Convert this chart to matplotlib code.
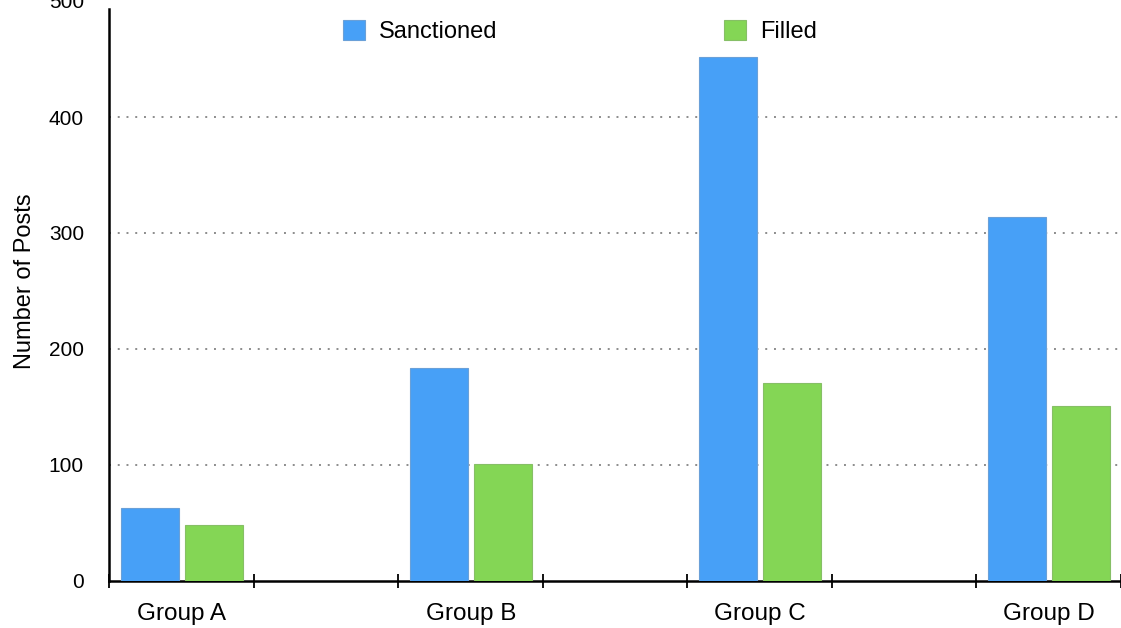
import matplotlib.pyplot as plt
import numpy as np

groups = ['Group A', 'Group B', 'Group C', 'Group D']
sanctioned = [63, 184, 452, 314]
filled = [48, 101, 171, 151]
y_ticks = [0, 100, 200, 300, 400, 500]

plt.rcParams['font.family'] = ['Liberation Sans', 'DejaVu Sans']

fig = plt.figure(figsize=(11.21, 6.28), dpi=100)
# the original picture is cropped on the right and at the top
ax = fig.add_axes([109 / 1121, 47 / 628, 1156 / 1121, 580 / 628])

x = np.arange(len(groups))
w = 0.2
ax.bar(x + 0.042, sanctioned, w, align='edge', color='#47a0f7',
       edgecolor='#6aa0d8', linewidth=0.8, label='Sanctioned', zorder=3)
ax.bar(x + 0.262, filled, w, align='edge', color='#84d655',
       edgecolor='#86bf66', linewidth=0.8, label='Filled', zorder=3)

ax.set_xlim(0, len(groups))
ax.set_ylim(0, 500)

# boundary ticks every half group, labels under the bar pairs
ax.set_xticks(np.arange(0, len(groups) + 0.01, 0.5))
ax.set_xticklabels([])
ax.set_xticks(x + 0.252, minor=True)
ax.set_xticklabels(groups, minor=True, fontsize=17.5)
ax.tick_params(axis='x', which='major', direction='inout', length=10, width=1.3, color='black')
ax.tick_params(axis='x', which='minor', length=0, pad=16)

ax.set_yticks(y_ticks)
ax.tick_params(axis='y', length=0, pad=18, labelsize=15)
ax.yaxis.grid(True, linestyle=(0, (1, 3.5)), color='#8c8c8c', linewidth=1.4, zorder=0)
ax.get_ygridlines()[-1].set_visible(False)
ax.get_ygridlines()[0].set_visible(False)

ax.spines['top'].set_visible(False)
ax.spines['right'].set_visible(False)
ax.spines['left'].set_linewidth(1.8)
ax.spines['bottom'].set_linewidth(1.8)
ax.spines['left'].set_bounds(0, 493)

ax.set_ylabel('Number of Posts', fontsize=17, labelpad=9.5)
ax.yaxis.label.set_y(0.517)

ax.legend(loc='upper left', bbox_to_anchor=(0.1838, 1.0035), ncol=2, frameon=False,
          fontsize=17, handlelength=0.93, handleheight=0.93, handletextpad=0.59,
          columnspacing=9.6)

fig.savefig('out.png', dpi=100)
